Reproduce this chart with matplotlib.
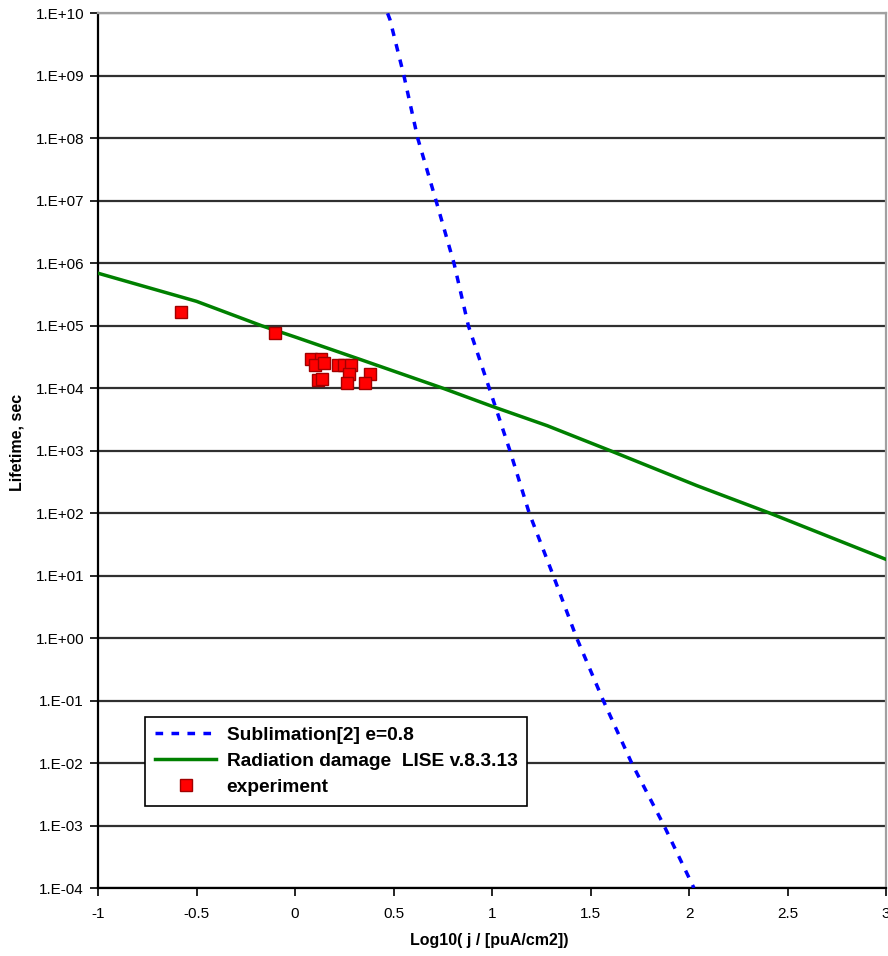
import numpy as np
import matplotlib
matplotlib.use('Agg')
import matplotlib.pyplot as plt
from matplotlib.ticker import FixedLocator, FuncFormatter

plt.rcParams['font.family'] = ['Liberation Sans', 'DejaVu Sans']

# sublimation curve, log10(j) vs log10(lifetime)
subl_x = [0.470, 0.482, 0.553, 0.623, 0.716, 0.807, 0.880, 0.986, 1.091,
          1.189, 1.311, 1.430, 1.565, 1.709, 1.873, 2.025]
subl_logy = [10.0, 9.9, 9.0, 8.0, 7.0, 6.0, 5.0, 4.0, 3.0,
             2.0, 1.0, 0.0, -1.0, -2.0, -3.0, -4.0]

# radiation damage (LISE)
rad_x = [-1.0, -0.5, -0.17, 0.0, 0.34, 0.75, 1.0, 1.28, 1.6, 2.04, 2.41, 3.0]
rad_logy = [5.84, 5.39, 5.0, 4.82, 4.45, 4.0, 3.71, 3.40, 3.0, 2.44, 2.0, 1.26]

# experiment
exp_x = [-0.580, -0.102, 0.081, 0.132, 0.102, 0.146, 0.217, 0.250, 0.284,
         0.118, 0.139, 0.276, 0.262, 0.379, 0.355]
exp_logy = [5.226, 4.890, 4.469, 4.469, 4.373, 4.40, 4.373, 4.373, 4.373,
            4.133, 4.154, 4.224, 4.08, 4.224, 4.08]

fig = plt.figure(figsize=(8.88, 9.56), dpi=100)
ax = fig.add_axes([98/888, 1-888/956, 788/888, 874.7/956])

ax.plot(subl_x, 10**np.array(subl_logy), color='#0000ff', lw=2.5,
        dashes=(2.2, 2.4), label='Sublimation[2] e=0.8', zorder=3)
ax.plot(rad_x, 10**np.array(rad_logy), color='#008000', lw=2.5,
        label='Radiation damage  LISE v.8.3.13', zorder=3)
ax.plot(exp_x, 10**np.array(exp_logy), 's', ms=8, mfc='#ff0000',
        mec='#a00000', mew=1.0, ls='none', label='experiment', zorder=4)

ax.set_yscale('log')
ax.set_ylim(1e-4, 1e10)
ax.set_xlim(-1, 3)
ax.yaxis.set_major_locator(FixedLocator([10.0**k for k in range(-4, 11)]))
ax.yaxis.set_minor_locator(FixedLocator([]))
ax.yaxis.set_major_formatter(FuncFormatter(lambda v, p: '1.E%+03d' % int(round(np.log10(v)))))
ax.set_xticks(np.arange(-1, 3.01, 0.5))
ax.xaxis.set_major_formatter(FuncFormatter(lambda v, p: ('%g' % v)))

ax.grid(axis='y', color='#303030', lw=1.6, zorder=1)
ax.tick_params(axis='both', direction='out', length=6, width=1.2,
               labelsize=11, colors='black')
ax.tick_params(axis='y', pad=4)
ax.tick_params(axis='x', pad=8)

ax.spines['left'].set_linewidth(1.6)
ax.spines['bottom'].set_linewidth(1.6)
ax.spines['top'].set_color('#a0a0a0')
ax.spines['right'].set_color('#a0a0a0')
ax.spines['top'].set_linewidth(1.6)
ax.spines['right'].set_linewidth(1.6)

ax.set_xlabel('Log10( j / [puA/cm2])', fontsize=11.5, fontweight='bold')
ax.set_ylabel('Lifetime, sec', fontsize=11.5, fontweight='bold')
ax.xaxis.set_label_coords(0.497, -0.052)
ax.yaxis.set_label_coords(-0.093, 0.509)

leg = ax.legend(loc='lower left', bbox_to_anchor=(0.06, 0.094),
                prop={'weight': 'bold', 'size': 13.8}, frameon=True, fancybox=False,
                edgecolor='black', framealpha=1, handlelength=3.2,
                handletextpad=0.55, borderpad=0.5, labelspacing=0.45,
                borderaxespad=0)
leg.get_frame().set_linewidth(1.2)
leg.set_zorder(5)

fig.savefig('out.png', dpi=100)
